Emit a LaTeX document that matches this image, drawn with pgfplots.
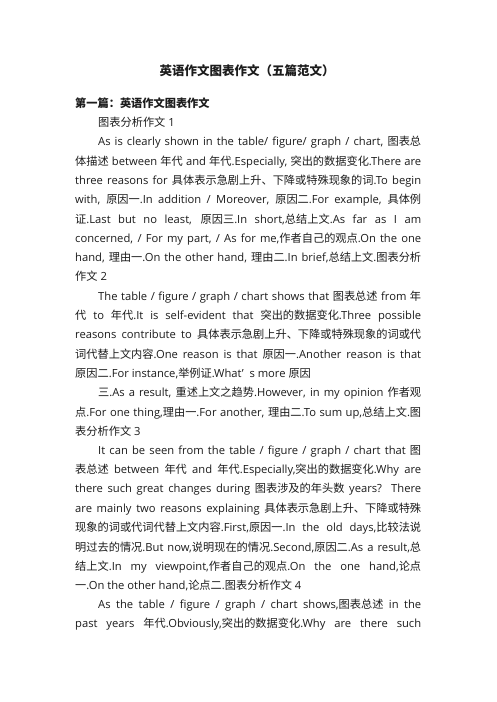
\documentclass[border=0pt]{standalone}
\usepackage{pgfplots}
\pgfplotsset{compat=1.18}
\usepackage{fontspec}
\setmainfont{Open Sans}
\newfontfamily\cjk{Noto Sans CJK SC}
\newfontfamily\lat{Open Sans}
% switch to the CJK font for Chinese characters and punctuation
\XeTeXinterchartokenstate=1
\newXeTeXintercharclass\cjkclass
\count255="3000
\loop\ifnum\count255<"3040 \XeTeXcharclass\count255=\cjkclass \advance\count255 by 1 \repeat
\count255="4E00
\loop\ifnum\count255<"A000 \XeTeXcharclass\count255=\cjkclass \advance\count255 by 1 \repeat
\count255="FF00
\loop\ifnum\count255<"FFF0 \XeTeXcharclass\count255=\cjkclass \advance\count255 by 1 \repeat
\XeTeXinterchartoks 0 \cjkclass = {\cjk}
\XeTeXinterchartoks 4095 \cjkclass = {\cjk}
\XeTeXinterchartoks \cjkclass 0 = {\lat}
\XeTeXinterchartoks \cjkclass 4095 = {\lat}
\definecolor{ink}{HTML}{1C1C1C}

% one justified line from x=#1 to the right margin (x=421)
\newcommand{\jl}[3]{\node[anchor=base west,inner sep=0pt,text=ink] at (axis cs:#1,#2)
  {\makebox[\dimexpr421pt-#1pt\relax][s]{#3}};}
% one ragged line
\newcommand{\rl}[3]{\node[anchor=base west,inner sep=0pt,text=ink] at (axis cs:#1,#2) {#3};}

\begin{document}
\begin{tikzpicture}
\begin{axis}[
  width=496pt, height=702pt, scale only axis,
  xmin=0, xmax=496, ymin=0, ymax=702, y dir=reverse,
  hide axis, clip=false,
  font=\fontsize{11.2pt}{13pt}\selectfont
]
\fill[white] (axis cs:0,0) rectangle (axis cs:496,702);

\node[anchor=base,inner sep=0pt,text=ink,font=\fontsize{12.5pt}{14pt}\selectfont\bfseries]
  at (axis cs:247,75.5) {英语作文图表作文（五篇范文）};
\rl{75}{107}{\bfseries 第一篇：英语作文图表作文}
\rl{98}{126}{图表分析作文 1}
\jl{98}{145}{As is clearly shown in the table/ figure/ graph / chart, 图表总}
\jl{75}{165}{体描述 between 年代 and 年代.Especially, 突出的数据变化.There are}
\jl{75}{184}{three reasons for 具体表示急剧上升、下降或特殊现象的词.To begin}
\jl{75}{203}{with, 原因一.In addition / Moreover, 原因二.For example, 具体例}
\jl{75}{223}{证.Last but no least, 原因三.In short,总结上文.As far as I am}
\jl{75}{242}{concerned, / For my part, / As for me,作者自己的观点.On the one}
\jl{75}{261}{hand, 理由一.On the other hand, 理由二.In brief,总结上文.图表分析}
\rl{75}{280}{作文 2}
\jl{98}{300}{The table / figure / graph / chart shows that 图表总述 from 年}
\jl{75}{319}{代 to 年代.It is self-evident that 突出的数据变化.Three possible}
\jl{75}{338}{reasons contribute to 具体表示急剧上升、下降或特殊现象的词或代}
\jl{75}{358}{词代替上文内容.One reason is that 原因一.Another reason is that}
\rl{75}{377}{原因二.For instance,举例证.What’\ \ s more 原因}
\jl{98}{396}{三.As a result, 重述上文之趋势.However, in my opinion 作者观}
\jl{75}{416}{点.For one thing,理由一.For another, 理由二.To sum up,总结上文.图}
\rl{75}{435}{表分析作文 3}
\jl{98}{454}{It can be seen from the table / figure / graph / chart that 图}
\jl{75}{473}{表总述 between 年代 and 年代.Especially,突出的数据变化.Why are}
\jl{75}{492}{there such great changes during 图表涉及的年头数 years? There}
\jl{75}{512}{are mainly two reasons explaining 具体表示急剧上升、下降或特殊}
\jl{75}{531}{现象的词或代词代替上文内容.First,原因一.In the old days,比较法说}
\jl{75}{551}{明过去的情况.But now,说明现在的情况.Second,原因二.As a result,总}
\jl{75}{570}{结上文.In my viewpoint,作者自己的观点.On the one hand,论点}
\rl{75}{589}{一.On the other hand,论点二.图表分析作文 4}
\jl{98}{608}{As the table / figure / graph / chart shows,图表总述 in the}
\jl{75}{627}{past years 年代.Obviously,突出的数据变化.Why are there such}
\end{axis}
\end{tikzpicture}
\end{document}
